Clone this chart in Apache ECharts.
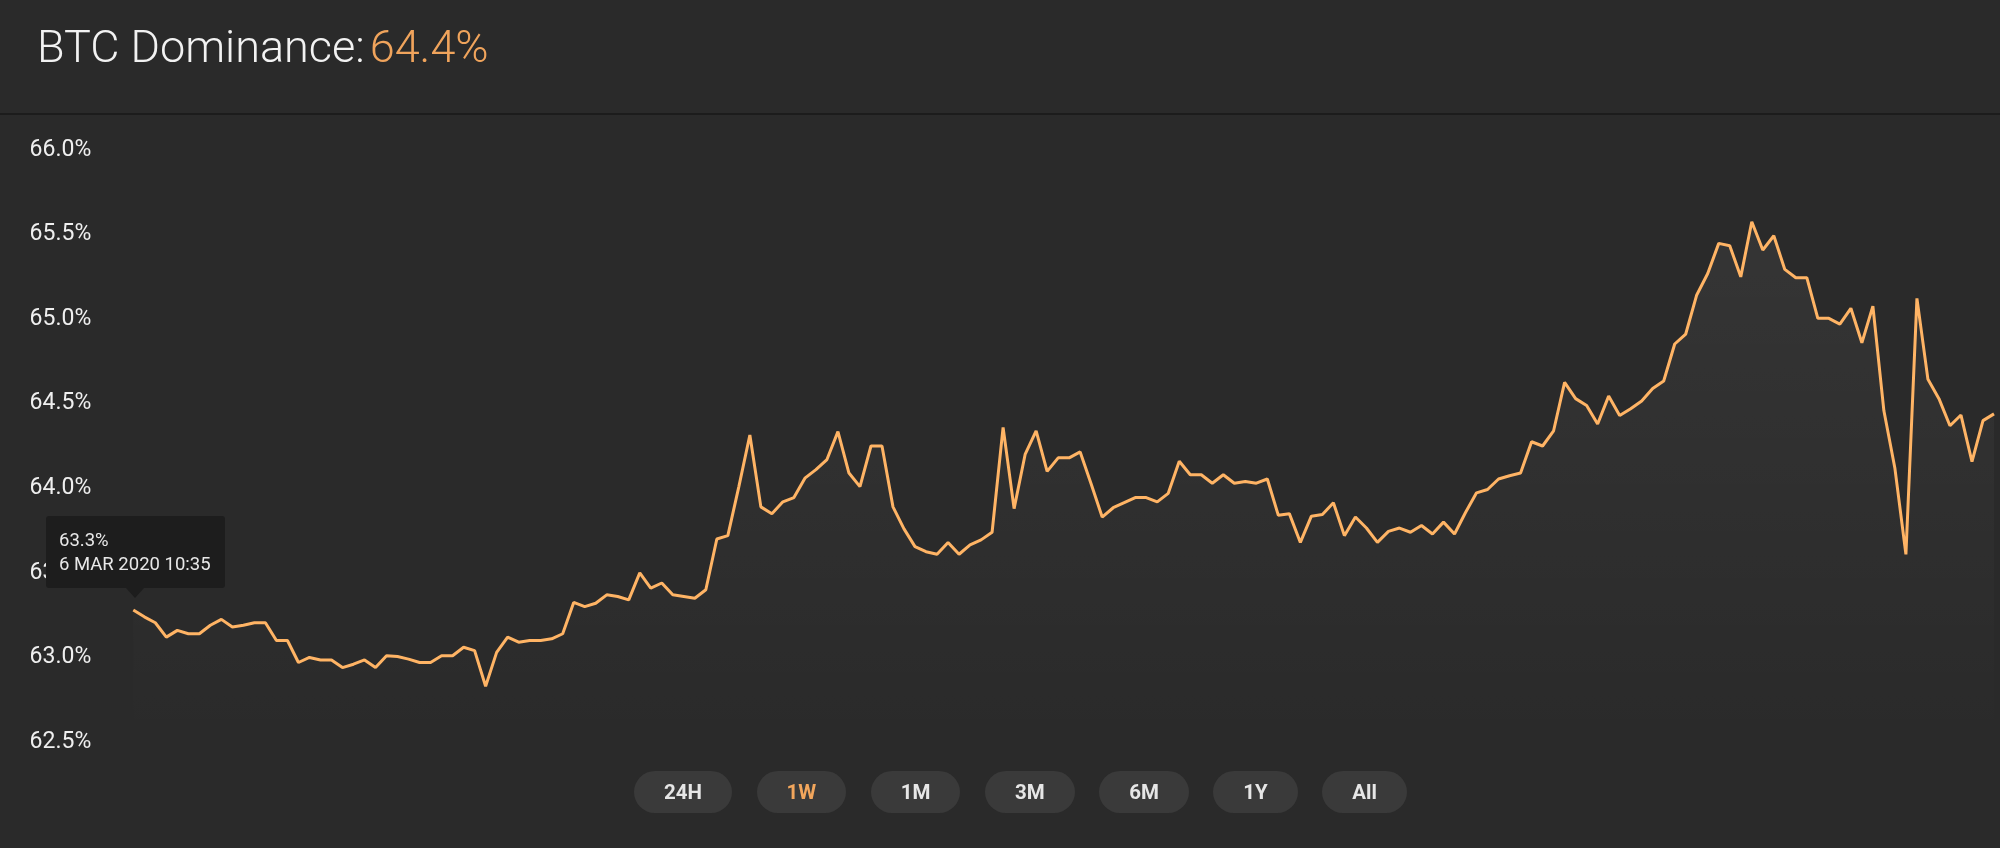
<!DOCTYPE html>
<html><head><meta charset="utf-8">
<script src="https://cdn.jsdelivr.net/npm/echarts@6/dist/echarts.min.js"></script>
<style>
html,body{margin:0;padding:0;background:#2a2a2a;width:2000px;height:848px;overflow:hidden;}
#chart{width:2000px;height:848px;position:absolute;left:0;top:0;}
#sep{position:absolute;left:0;top:113px;width:2000px;height:2px;background:#1c1c1c;}
#btns{position:absolute;top:771px;left:634px;display:flex;gap:24.5px;}
.b{height:42px;line-height:42px;padding:0 30px;border-radius:21px;background:#3a3a3a;color:#e6e6e6;font-family:Roboto;font-weight:700;font-size:20.5px;text-align:center;}
.b.on{color:#f2a65c;}
</style></head><body>
<div id="chart"></div><div id="sep"></div>
<div id="btns"></div>
<script>
// ---- data ----
const titleLabel = 'BTC Dominance:';
const currentValue = '64.4%';
const startTimeUTC = Date.UTC(2020, 2, 6, 10, 35); // 6 MAR 2020 10:35, hourly samples
const dominance = [
 63.28,63.24,63.205,63.12,63.16,63.14,63.14,63.19,63.225,63.18,
 63.19,63.205,63.205,63.10,63.10,62.97,63.00,62.985,62.985,62.94,
 62.96,62.985,62.94,63.01,63.005,62.99,62.97,62.97,63.01,63.01,
 63.06,63.04,62.83,63.03,63.12,63.09,63.10,63.10,63.11,63.14,
 63.325,63.30,63.32,63.37,63.36,63.34,63.50,63.41,63.44,63.37,
 63.36,63.35,63.40,63.70,63.72,64.01,64.315,63.89,63.85,63.92,
 63.945,64.06,64.11,64.17,64.335,64.09,64.01,64.25,64.25,63.89,
 63.76,63.655,63.625,63.61,63.68,63.61,63.665,63.695,63.74,64.36,
 63.88,64.20,64.34,64.10,64.18,64.18,64.215,64.025,63.83,63.885,
 63.915,63.945,63.945,63.92,63.97,64.16,64.08,64.08,64.03,64.08,
 64.03,64.04,64.03,64.055,63.84,63.85,63.68,63.835,63.845,63.915,
 63.72,63.83,63.765,63.68,63.745,63.765,63.74,63.78,63.73,63.80,
 63.73,63.857,63.973,63.993,64.055,64.074,64.09,64.275,64.25,64.34,
 64.626,64.53,64.49,64.38,64.545,64.43,64.47,64.516,64.59,64.634,
 64.853,64.912,65.143,65.27,65.448,65.434,65.25,65.576,65.409,65.493,
 65.294,65.245,65.245,65.005,65.005,64.971,65.064,64.86,65.077,64.458,
 64.118,63.609,65.123,64.644,64.53,64.37,64.433,64.157,64.40,64.44
];
const yMin = 62.5, yMax = 66.0, yStep = 0.5;
const rangeButtons = ['24H','1W','1M','3M','6M','1Y','All'];
const activeRange = '1W';
const months = ['JAN','FEB','MAR','APR','MAY','JUN','JUL','AUG','SEP','OCT','NOV','DEC'];

// ---- categories (timestamps) ----
function fmtTime(ms){
  const d = new Date(ms);
  const p = n => (n < 10 ? '0' : '') + n;
  return d.getUTCDate() + ' ' + months[d.getUTCMonth()] + ' ' + d.getUTCFullYear() + ' ' + p(d.getUTCHours()) + ':' + p(d.getUTCMinutes());
}
const categories = dominance.map((_, i) => fmtTime(startTimeUTC + i * 3600000));

// ---- buttons ----
const btns = document.getElementById('btns');
rangeButtons.forEach(t => {
  const el = document.createElement('div');
  el.className = 'b' + (t === activeRange ? ' on' : '');
  el.textContent = t;
  btns.appendChild(el);
});

const chart = echarts.init(document.getElementById('chart'), null, {renderer: 'canvas'});
const option = {
  backgroundColor: '#2a2a2a',
  animation: false,
  title: {
    left: 32, top: 23,
    text: '{a|' + titleLabel + '} {b|' + currentValue + '}',
    textStyle: {
      rich: {
        a: {fontFamily: 'Roboto', fontWeight: 300, fontSize: 45, color: '#f2f2f2'},
        b: {fontFamily: 'Roboto', fontWeight: 300, fontSize: 45, color: '#f0a45c'}
      }
    }
  },
  grid: {left: 133.3, right: 6, top: 150, bottom: 106},
  tooltip: {
    trigger: 'axis',
    triggerOn: 'none',
    alwaysShowContent: true,
    axisPointer: {type: 'none'},
    backgroundColor: '#1d1d1d',
    borderWidth: 0,
    padding: [12, 14, 12, 13],
    transitionDuration: 0,
    extraCssText: 'box-shadow:none;border-radius:3px;',
    formatter: function (params) {
      const p = params[0];
      return '<div style="font-family:Roboto;font-size:18.5px;line-height:24px;color:#e8e8e8;white-space:nowrap">' +
        p.value.toFixed(1) + '%<br>' + p.axisValue + '</div>' +
        '<div style="position:absolute;left:50%;bottom:-10px;margin-left:-9px;width:0;height:0;border-left:9px solid transparent;border-right:9px solid transparent;border-top:10px solid #1d1d1d"></div>';
    },
    position: function (point, params, dom, rect, size) {
      return [point[0] - size.contentSize[0] / 2 + 2, point[1] - size.contentSize[1] - 22];
    }
  },
  xAxis: {
    type: 'category',
    data: categories,
    boundaryGap: false,
    show: false
  },
  yAxis: {
    type: 'value',
    min: yMin, max: yMax, interval: yStep,
    axisLine: {show: false},
    axisTick: {show: false},
    splitLine: {show: false},
    axisLabel: {
      margin: 42,
      color: '#efefef',
      fontFamily: 'Roboto',
      fontSize: 23,
      formatter: v => v.toFixed(1) + '%'
    }
  },
  series: [{
    type: 'line',
    data: dominance,
    showSymbol: false,
    symbol: 'none',
    lineStyle: {color: '#f0a45c', width: 3},
    areaStyle: {
      origin: 'start',
      color: new echarts.graphic.LinearGradient(0, 0, 0, 1, [
        {offset: 0, color: 'rgba(255,255,255,0.075)'},
        {offset: 1, color: 'rgba(255,255,255,0)'}
      ])
    }
  }]
};
chart.setOption(option);
chart.dispatchAction({type: 'showTip', seriesIndex: 0, dataIndex: 0});
</script>
</body></html>
